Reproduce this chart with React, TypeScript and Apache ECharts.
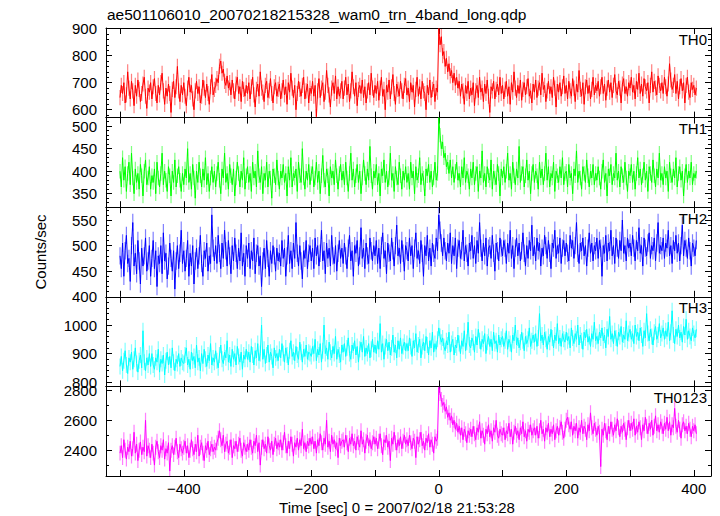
import React, { useEffect, useRef } from "react";
import * as echarts from "echarts";

// Time bins: start at -500 s, 2 s per bin (25 bins = 50 s per row)
const T_START = -500;
const T_STEP = 2;

const th0 = [
  645, 690, 660, 700, 625, 655, 740, 680, 640, 705, 670, 615, 690, 650, 710, 675, 630, 660, 695, 720, 650, 605, 680, 665, 700,
  640, 685, 715, 660, 625, 690, 655, 700, 735, 670, 620, 680, 650, 695, 660, 590, 675, 705, 645, 685, 760, 670, 630, 690, 655,
  700, 650, 615, 680, 720, 665, 690, 640, 600, 670, 705, 660, 685, 625, 650, 710, 680, 645, 695, 660, 620, 685, 730, 655, 675,
  690, 715, 700, 760, 780, 735, 750, 705, 690, 725, 680, 700, 655, 710, 670, 640, 695, 720, 660, 685, 630, 705, 675, 650, 690,
  660, 700, 640, 685, 720, 655, 610, 675, 695, 650, 740, 680, 665, 630, 690, 705, 645, 670, 715, 660, 625, 685, 700, 650, 675,
  695, 640, 670, 710, 655, 685, 620, 700, 665, 735, 680, 645, 690, 600, 660, 705, 675, 650, 690, 720, 640, 670, 695, 625, 680,
  660, 705, 650, 690, 575, 670, 715, 645, 680, 700, 630, 665, 745, 690, 655, 610, 680, 700, 660, 725, 640, 685, 650, 670, 705,
  640, 680, 720, 655, 695, 630, 670, 740, 685, 650, 700, 615, 675, 690, 660, 710, 645, 685, 625, 670, 700, 655, 735, 680, 645,
  690, 660, 705, 635, 680, 720, 650, 675, 600, 690, 665, 710, 640, 685, 730, 660, 620, 695, 675, 650, 705, 670, 640, 690, 715,
  655, 680, 630, 700, 665, 690, 610, 675, 720, 650, 685, 640, 705, 670, 660, 600, 690, 655, 710, 645, 675, 695, 630, 680, 665,
  900, 840, 870, 800, 815, 760, 790, 740, 770, 725, 745, 700, 735, 690, 720, 680, 705, 650, 695, 670, 620, 690, 660, 705, 640,
  680, 655, 700, 615, 670, 690, 645, 720, 665, 680, 630, 695, 660, 710, 650, 590, 685, 670, 705, 640, 675, 695, 655, 720, 660,
  690, 640, 675, 705, 650, 685, 620, 700, 665, 740, 680, 645, 690, 660, 710, 635, 675, 700, 655, 685, 715, 650, 670, 625, 695,
  665, 710, 645, 680, 700, 655, 735, 675, 690, 630, 670, 705, 660, 685, 645, 720, 680, 610, 695, 665, 700, 650, 685, 725, 660,
  690, 640, 705, 670, 650, 715, 680, 630, 695, 665, 745, 675, 650, 700, 620, 685, 710, 660, 690, 640, 675, 720, 655, 690, 670,
  705, 650, 685, 720, 660, 695, 635, 680, 710, 665, 700, 645, 690, 730, 670, 655, 705, 680, 625, 695, 715, 660, 685, 650, 700,
  680, 720, 665, 690, 640, 705, 675, 735, 660, 695, 650, 715, 685, 670, 700, 625, 690, 740, 665, 705, 680, 655, 725, 690, 670,
  700, 660, 720, 685, 650, 695, 770, 710, 675, 690, 730, 660, 705, 640, 685, 715, 670, 700, 625, 690, 720, 665, 645, 700, 675,
  690, 655, 680,
];

const th1 = [
  400, 365, 430, 380, 410, 355, 395, 420, 370, 440, 385, 350, 405, 375, 395, 360, 415, 390, 345, 400, 425, 370, 385, 410, 360,
  390, 375, 405, 350, 420, 385, 365, 395, 440, 370, 400, 380, 355, 410, 390, 345, 400, 375, 425, 365, 390, 410, 380, 355, 395,
  370, 405, 385, 450, 375, 395, 360, 415, 385, 340, 400, 375, 420, 390, 365, 405, 380, 430, 370, 395, 355, 385, 410, 375, 400,
  365, 395, 420, 380, 350, 405, 385, 440, 375, 395, 360, 415, 390, 370, 405, 345, 385, 420, 395, 365, 400, 380, 430, 360, 390,
  410, 375, 395, 355, 420, 385, 400, 365, 445, 390, 375, 410, 350, 395, 380, 420, 365, 400, 385, 340, 405, 390, 370, 425, 385,
  360, 400, 385, 415, 375, 395, 345, 410, 380, 430, 365, 395, 385, 405, 355, 420, 390, 375, 450, 385, 360, 400, 380, 415, 370,
  395, 410, 365, 385, 420, 375, 400, 350, 390, 435, 380, 365, 405, 390, 345, 410, 385, 400, 370, 425, 390, 360, 395, 415, 380,
  400, 370, 420, 385, 355, 395, 440, 380, 405, 365, 390, 415, 375, 400, 350, 385, 425, 395, 370, 405, 380, 455, 390, 360, 400,
  385, 415, 370, 395, 345, 405, 390, 425, 375, 400, 365, 385, 440, 380, 395, 355, 410, 385, 370, 420, 390, 360, 400, 380, 410,
  375, 395, 360, 420, 385, 400, 350, 410, 380, 390, 430, 370, 395, 385, 345, 405, 390, 415, 375, 400, 365, 385, 420, 380, 395,
  519, 480, 450, 465, 430, 440, 410, 420, 395, 425, 385, 410, 375, 400, 420, 380, 395, 365, 410, 385, 430, 375, 400, 390, 360,
  405, 385, 420, 370, 395, 410, 355, 400, 385, 445, 375, 395, 365, 410, 390, 380, 425, 360, 400, 385, 370, 415, 395, 345, 405,
  385, 410, 375, 400, 440, 380, 395, 360, 420, 390, 370, 405, 385, 455, 375, 395, 410, 365, 390, 425, 380, 400, 350, 395, 415,
  375, 400, 390, 360, 420, 385, 405, 370, 395, 440, 380, 410, 365, 395, 385, 420, 355, 400, 390, 375, 410, 385, 430, 370, 395,
  400, 365, 415, 385, 395, 350, 405, 390, 445, 375, 400, 385, 360, 410, 395, 375, 425, 390, 365, 400, 385, 415, 370, 395, 380,
  410, 385, 360, 400, 425, 375, 395, 345, 405, 390, 415, 370, 395, 385, 440, 380, 400, 365, 410, 390, 375, 420, 385, 355, 400,
  390, 415, 375, 400, 360, 395, 430, 385, 405, 370, 390, 420, 380, 400, 355, 410, 395, 375, 425, 390, 365, 405, 385, 440, 380,
  395, 370, 410, 385, 400, 355, 420, 390, 375, 405, 385, 430, 365, 395, 410, 380, 400, 345, 390, 415, 375, 400, 385, 420, 370,
  395, 385, 400,
];

const th2 = [
  480, 455, 505, 440, 490, 520, 465, 475, 430, 500, 545, 460, 485, 445, 510, 470, 425, 495, 460, 480, 515, 450, 470, 500, 440,
  475, 510, 455, 490, 420, 480, 465, 500, 445, 525, 470, 485, 435, 460, 505, 475, 450, 490, 415, 470, 500, 455, 485, 530, 465,
  490, 450, 475, 510, 440, 485, 460, 500, 425, 470, 495, 455, 480, 520, 465, 440, 490, 475, 505, 450, 480, 465, 560, 495, 470,
  500, 465, 520, 485, 455, 505, 475, 530, 490, 460, 510, 480, 445, 500, 470, 515, 485, 455, 495, 470, 525, 460, 485, 440, 500,
  475, 505, 455, 490, 470, 515, 445, 485, 500, 460, 480, 420, 470, 495, 455, 510, 475, 440, 490, 465, 500, 480, 450, 495, 470,
  485, 460, 510, 475, 495, 440, 480, 520, 465, 490, 455, 505, 475, 545, 485, 460, 500, 470, 435, 490, 475, 510, 455, 485, 500,
  470, 495, 455, 515, 480, 500, 460, 485, 530, 470, 490, 445, 505, 475, 495, 460, 520, 480, 465, 500, 450, 485, 510, 475, 495,
  465, 505, 480, 455, 495, 520, 470, 490, 440, 500, 485, 510, 460, 480, 535, 475, 495, 455, 505, 480, 465, 515, 490, 470, 500,
  480, 510, 465, 495, 455, 500, 525, 475, 490, 445, 505, 485, 470, 515, 490, 460, 500, 540, 480, 495, 465, 510, 485, 450, 500,
  490, 470, 515, 480, 500, 455, 495, 525, 475, 490, 465, 510, 485, 440, 500, 480, 520, 470, 495, 460, 505, 485, 475, 515, 490,
  560, 530, 505, 480, 515, 490, 470, 505, 485, 525, 465, 500, 480, 515, 455, 495, 510, 475, 490, 530, 470, 500, 485, 460, 505,
  490, 520, 475, 500, 465, 510, 485, 545, 495, 470, 505, 480, 515, 460, 495, 500, 475, 520, 485, 450, 505, 490, 470, 515, 495,
  480, 510, 495, 465, 505, 485, 530, 475, 500, 455, 495, 515, 480, 505, 470, 490, 525, 485, 460, 500, 475, 510, 490, 540, 480,
  500, 470, 515, 490, 505, 460, 495, 480, 520, 500, 475, 510, 485, 455, 505, 495, 530, 475, 500, 485, 515, 465, 495, 510, 480,
  505, 485, 470, 520, 495, 510, 475, 500, 545, 485, 465, 505, 490, 515, 480, 500, 460, 495, 525, 485, 505, 470, 500, 490, 515,
  475, 510, 495, 440, 500, 485, 520, 470, 505, 490, 530, 480, 500, 465, 515, 495, 475, 510, 490, 550, 485, 500, 470, 515, 495,
  505, 480, 520, 495, 470, 510, 490, 535, 485, 500, 460, 515, 495, 480, 505, 525, 475, 500, 490, 515, 470, 505, 545, 485, 500,
  490, 515, 475, 505, 495, 530, 480, 500, 465, 510, 490, 520, 485, 505, 470, 500, 540, 480, 510, 495, 475, 515, 490, 460, 505,
  495, 480, 510,
];

const th3 = [
  855, 890, 840, 875, 910, 860, 830, 885, 870, 905, 845, 880, 920, 865, 835, 875, 895, 850, 980, 870, 840, 885, 860, 900, 855,
  900, 860, 845, 885, 870, 915, 835, 880, 865, 895, 825, 875, 905, 860, 890, 850, 920, 870, 840, 880, 865, 900, 855, 885, 870,
  865, 895, 920, 860, 880, 845, 905, 875, 890, 850, 930, 870, 885, 840, 900, 865, 915, 880, 855, 895, 875, 935, 860, 885, 870,
  910, 875, 850, 895, 930, 880, 865, 905, 885, 945, 870, 895, 855, 915, 880, 900, 860, 925, 890, 870, 905, 845, 895, 880, 915,
  880, 905, 870, 925, 895, 860, 910, 885, 935, 875, 900, 1000, 880, 915, 865, 895, 930, 870, 905, 890, 850, 920, 885, 900, 875,
  915, 885, 935, 900, 870, 920, 895, 860, 910, 945, 890, 905, 875, 925, 895, 880, 940, 905, 870, 915, 890, 930, 880, 905, 900,
  890, 925, 900, 950, 875, 915, 895, 935, 870, 910, 1000, 900, 920, 880, 940, 905, 885, 925, 900, 960, 880, 915, 895, 870, 930,
  905, 935, 890, 920, 955, 900, 880, 930, 910, 945, 895, 925, 870, 915, 940, 905, 960, 890, 920, 900, 935, 885, 915, 950, 905,
  930, 900, 945, 915, 1005, 905, 935, 880, 925, 950, 910, 940, 895, 920, 965, 905, 930, 885, 945, 915, 955, 900, 925, 940, 910,
  935, 910, 955, 925, 890, 945, 920, 970, 905, 930, 950, 885, 925, 940, 910, 960, 930, 895, 945, 920, 975, 905, 935, 915, 950,
  990, 960, 940, 955, 925, 910, 945, 930, 975, 905, 935, 950, 895, 930, 920, 965, 935, 900, 945, 925, 980, 910, 940, 1010, 930,
  920, 955, 940, 905, 960, 930, 985, 945, 915, 950, 935, 970, 900, 940, 960, 925, 950, 910, 975, 935, 945, 905, 965, 930, 950,
  960, 925, 945, 980, 915, 950, 935, 905, 965, 945, 1000, 930, 955, 920, 940, 975, 945, 910, 960, 935, 950, 990, 925, 945, 965,
  940, 970, 925, 955, 1040, 945, 965, 930, 975, 950, 915, 960, 940, 985, 955, 920, 965, 945, 1005, 935, 955, 925, 970, 950, 940,
  975, 945, 960, 920, 990, 955, 935, 970, 950, 1000, 930, 965, 945, 915, 975, 955, 985, 940, 960, 925, 970, 950, 1010, 945, 960,
  935, 975, 955, 990, 945, 965, 920, 985, 960, 1030, 950, 970, 935, 980, 955, 925, 975, 960, 995, 940, 965, 950, 1015, 945, 970,
  985, 950, 970, 935, 1000, 960, 975, 945, 990, 965, 925, 980, 955, 1040, 970, 945, 985, 960, 930, 975, 995, 950, 965, 1005, 955,
  970, 990, 950, 980, 960, 1010, 945, 975, 1050, 965, 935, 985, 960, 1000, 955, 975, 940, 995, 965, 1020, 950, 980, 960, 945, 990,
  970, 955, 985,
];

const th0123 = [
  2380, 2430, 2350, 2470, 2400, 2340, 2420, 2390, 2460, 2360, 2410, 2520, 2380, 2440, 2330, 2400, 2455, 2370, 2420, 2390, 2600, 2360, 2430, 2400, 2350,
  2440, 2380, 2300, 2420, 2460, 2390, 2350, 2430, 2400, 2470, 2340, 2410, 2380, 2450, 2260, 2400, 2430, 2370, 2420, 2480, 2390, 2350, 2440, 2410, 2380,
  2420, 2460, 2380, 2430, 2350, 2400, 2470, 2410, 2370, 2440, 2390, 2500, 2360, 2420, 2450, 2380, 2330, 2430, 2400, 2460, 2370, 2410, 2440, 2390, 2420,
  2400, 2450, 2480, 2530, 2470, 2430, 2500, 2390, 2440, 2460, 2380, 2420, 2470, 2350, 2430, 2410, 2460, 2390, 2440, 2480, 2400, 2360, 2450, 2420, 2390,
  2440, 2400, 2470, 2420, 2380, 2460, 2430, 2500, 2390, 2450, 2300, 2420, 2470, 2410, 2440, 2380, 2490, 2430, 2400, 2460, 2370, 2440, 2480, 2410, 2450,
  2420, 2470, 2400, 2450, 2520, 2430, 2380, 2460, 2410, 2490, 2440, 2360, 2450, 2420, 2480, 2400, 2470, 2430, 2540, 2410, 2450, 2390, 2460, 2430, 2480,
  2440, 2490, 2410, 2460, 2380, 2470, 2430, 2510, 2450, 2400, 2480, 2440, 2600, 2420, 2460, 2390, 2500, 2440, 2470, 2410, 2450, 2350, 2480, 2430, 2460,
  2470, 2420, 2500, 2450, 2390, 2480, 2440, 2510, 2430, 2460, 2400, 2490, 2450, 2420, 2530, 2440, 2470, 2380, 2460, 2500, 2430, 2470, 2410, 2450, 2490,
  2440, 2480, 2410, 2460, 2510, 2430, 2370, 2470, 2450, 2500, 2420, 2460, 2330, 2480, 2440, 2520, 2450, 2400, 2470, 2430, 2490, 2410, 2460, 2500, 2440,
  2470, 2430, 2500, 2450, 2410, 2480, 2460, 2350, 2490, 2440, 2470, 2520, 2430, 2460, 2400, 2480, 2450, 2510, 2420, 2470, 2440, 2380, 2490, 2460, 2480,
  2820, 2780, 2740, 2700, 2720, 2660, 2690, 2620, 2650, 2600, 2630, 2570, 2600, 2540, 2580, 2520, 2560, 2500, 2550, 2470, 2540, 2510, 2450, 2530, 2500,
  2540, 2490, 2560, 2510, 2470, 2550, 2520, 2590, 2480, 2530, 2500, 2440, 2540, 2510, 2570, 2490, 2530, 2460, 2550, 2520, 2600, 2500, 2480, 2540, 2510,
  2500, 2550, 2470, 2530, 2510, 2580, 2490, 2540, 2440, 2520, 2560, 2500, 2530, 2470, 2550, 2510, 2590, 2490, 2530, 2460, 2540, 2520, 2570, 2500, 2530,
  2550, 2500, 2560, 2480, 2530, 2600, 2510, 2540, 2460, 2550, 2520, 2580, 2490, 2540, 2510, 2570, 2470, 2530, 2560, 2500, 2550, 2590, 2520, 2480, 2540,
  2600, 2620, 2570, 2540, 2590, 2500, 2560, 2530, 2580, 2480, 2550, 2520, 2600, 2510, 2560, 2540, 2470, 2570, 2530, 2650, 2550, 2510, 2580, 2540, 2500,
  2560, 2520, 2290, 2540, 2500, 2580, 2530, 2470, 2560, 2510, 2590, 2540, 2500, 2570, 2530, 2610, 2550, 2490, 2560, 2520, 2580, 2540, 2470, 2550, 2600,
  2530, 2580, 2540, 2610, 2500, 2560, 2520, 2590, 2550, 2470, 2570, 2530, 2620, 2560, 2510, 2580, 2540, 2600, 2500, 2560, 2630, 2530, 2570, 2520, 2590,
  2560, 2510, 2580, 2540, 2620, 2530, 2590, 2500, 2570, 2550, 2680, 2560, 2520, 2600, 2540, 2480, 2570, 2590, 2530, 2560, 2510, 2580, 2540, 2490, 2560,
  2530, 2570, 2510,
];

// Typical 1-sigma error bar per panel (counts/sec)
const panelErrors = [28, 16, 17, 28, 50];

const panelNames = ["TH0", "TH1", "TH2", "TH3", "TH0123"];
const panelSeries = [th0, th1, th2, th3, th0123];
const yMins = [571, 320, 400, 785, 2227];
const yMaxs = [902, 519, 575, 1099, 2827];
const ySteps = [100, 50, 50, 100, 200];
const yMinorSplits = [5, 5, 5, 5, 2];
const xTickLabels = [-400, -200, 0, 200, 400];

const colors = ["#ff0000", "#00ff00", "#0000ff", "#00ffff", "#ff00ff"];
const lightColors = [
  "rgba(255,0,0,0.5)",
  "rgba(0,255,0,0.5)",
  "rgba(0,0,255,0.5)",
  "rgba(0,255,255,0.5)",
  "rgba(255,0,255,0.5)",
];

const FONT = '"Liberation Sans", Arial, Helvetica, sans-serif';
const PLOT_LEFT = 106;
const PLOT_WIDTH = 605;
const PLOT_TOP = 28;
const PANEL_H = 89.6;
const X_MIN = -522;
const X_MAX = 427;

function fmtMinus(v: number): string {
  return v < 0 ? "\u2212" + Math.abs(v) : String(v);
}

export default function App() {
  const ref = useRef<HTMLDivElement>(null);

  useEffect(() => {
    if (!ref.current) return;
    const chart = echarts.init(ref.current, null, { renderer: "svg" });

    const grids: any[] = [];
    const xAxes: any[] = [];
    const yAxes: any[] = [];
    const series: any[] = [];
    const graphics: any[] = [];
    const n = panelNames.length;

    for (let k = 0; k < n; k++) {
      grids.push({
        left: PLOT_LEFT,
        top: PLOT_TOP + k * PANEL_H,
        width: PLOT_WIDTH,
        height: PANEL_H,
        show: false,
      });
    }

    const axisLine = { show: true, onZero: false, lineStyle: { color: "#000", width: 1 } };

    const xAxisBase = (k: number, pos: "bottom" | "top", labels: boolean) => ({
      type: "value",
      gridIndex: k,
      position: pos,
      min: X_MIN,
      max: X_MAX,
      minInterval: 100,
      maxInterval: 100,
      axisLine,
      splitLine: { show: false },
      axisTick: { show: true, inside: true, length: 6, lineStyle: { color: "#000", width: 1 } },
      axisLabel: {
        show: labels,
        margin: 5,
        color: "#000",
        fontFamily: FONT,
        fontSize: 15,
        formatter: (v: number) => (xTickLabels.indexOf(v) >= 0 ? fmtMinus(v) : ""),
      },
    });

    for (let k = 0; k < n; k++) xAxes.push(xAxisBase(k, "bottom", k === n - 1));
    for (let k = 0; k < n; k++) xAxes.push(xAxisBase(k, "top", false));

    const yAxisBase = (k: number, pos: "left" | "right", labels: boolean) => ({
      type: "value",
      gridIndex: k,
      position: pos,
      min: yMins[k],
      max: yMaxs[k],
      minInterval: ySteps[k],
      maxInterval: ySteps[k],
      axisLine,
      splitLine: { show: false },
      axisTick: { show: true, inside: true, length: 6, lineStyle: { color: "#000", width: 1 } },
      minorTick: {
        show: true,
        splitNumber: yMinorSplits[k],
        length: 3,
        lineStyle: { color: "#000", width: 1 },
      },
      axisLabel: {
        show: labels,
        margin: 9,
        color: "#000",
        fontFamily: FONT,
        fontSize: 15,
        formatter: (v: number) => (v % ySteps[k] === 0 ? String(v) : ""),
      },
    });

    for (let k = 0; k < n; k++) yAxes.push(yAxisBase(k, "left", true));
    for (let k = 0; k < n; k++) yAxes.push(yAxisBase(k, "right", false));

    for (let k = 0; k < n; k++) {
      const pts = panelSeries[k].map((v, i) => [T_START + i * T_STEP, v]);
      const err = panelErrors[k];
      const light = lightColors[k];
      series.push({
        type: "custom",
        name: panelNames[k] + " err",
        xAxisIndex: k,
        yAxisIndex: k,
        data: pts,
        encode: { x: 0, y: 1 },
        clip: true,
        silent: true,
        z: 1,
        renderItem: (params: any, api: any) => {
          const t = api.value(0);
          const v = api.value(1);
          const hi = api.coord([t, v + err]);
          const lo = api.coord([t, v - err]);
          const rect = echarts.graphic.clipRectByRect(
            { x: hi[0] - 0.6, y: hi[1], width: 1.2, height: lo[1] - hi[1] },
            params.coordSys
          );
          if (!rect) return null;
          return { type: "rect", shape: rect, style: { fill: light } };
        },
      });
      series.push({
        type: "line",
        name: panelNames[k],
        xAxisIndex: k,
        yAxisIndex: k,
        data: pts,
        showSymbol: false,
        symbol: "none",
        clip: true,
        lineStyle: { color: colors[k], width: 1 },
        z: 2,
      });
      graphics.push({
        type: "text",
        x: PLOT_LEFT + PLOT_WIDTH - 4,
        y: PLOT_TOP + k * PANEL_H + 11,
        z: 10,
        style: {
          text: panelNames[k],
          fill: "#000",
          font: `15px ${FONT}`,
          align: "right",
          verticalAlign: "middle",
          textAlign: "right",
          textVerticalAlign: "middle",
        },
      });
    }

    graphics.push({
      type: "text",
      x: 107,
      y: 14,
      style: {
        text: "ae501106010_20070218215328_wam0_trn_4band_long.qdp",
        fill: "#000",
        font: `15.5px ${FONT}`,
        align: "left",
        verticalAlign: "middle",
        textAlign: "left",
        textVerticalAlign: "middle",
      },
    });
    graphics.push({
      type: "text",
      x: 40,
      y: PLOT_TOP + (n * PANEL_H) / 2,
      rotation: Math.PI / 2,
      style: {
        text: "Counts/sec",
        fill: "#000",
        font: `15px ${FONT}`,
        align: "center",
        verticalAlign: "middle",
        textAlign: "center",
        textVerticalAlign: "middle",
      },
    });
    graphics.push({
      type: "text",
      x: 397,
      y: 507,
      style: {
        text: "Time [sec] 0 = 2007/02/18 21:53:28",
        fill: "#000",
        font: `15px ${FONT}`,
        align: "center",
        verticalAlign: "middle",
        textAlign: "center",
        textVerticalAlign: "middle",
      },
    });

    chart.setOption({
      animation: false,
      backgroundColor: "#fff",
      textStyle: { fontFamily: FONT },
      grid: grids,
      xAxis: xAxes,
      yAxis: yAxes,
      series,
      graphic: graphics,
    });

    return () => chart.dispose();
  }, []);

  return (
    <div
      ref={ref}
      style={{ position: "fixed", left: 0, top: 0, width: 720, height: 516, background: "#fff" }}
    />
  );
}
